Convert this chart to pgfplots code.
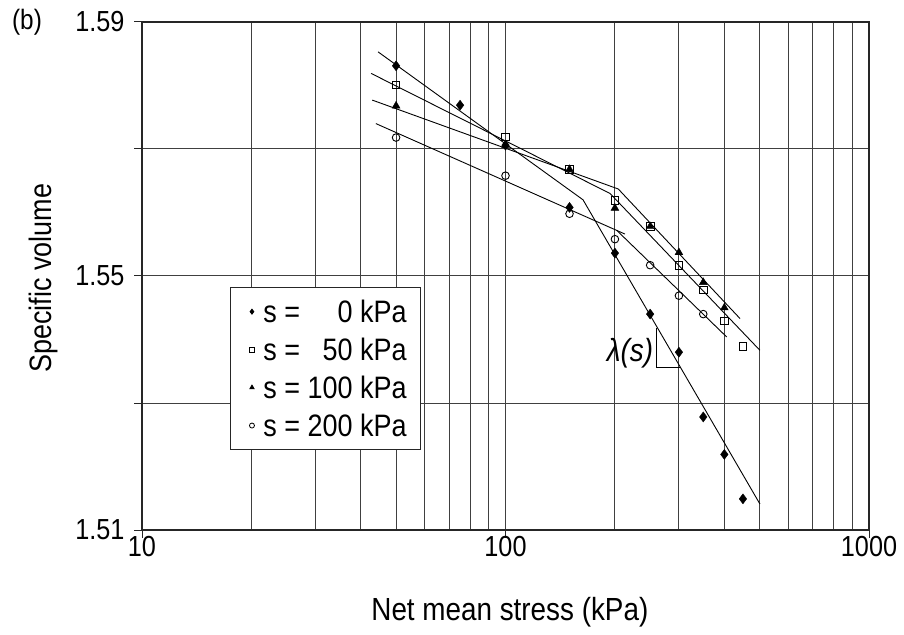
\documentclass[border=0pt]{standalone}
\usepackage{fontspec}
\setmainfont{Liberation Sans}[FakeStretch=0.87]
\usepackage{pgfplots}
\pgfplotsset{compat=1.18}
\usetikzlibrary{calc}
\begin{document}
\begin{tikzpicture}
\begin{axis}[
  name=ax,
  scale only axis,
  width=727pt, height=508pt,
  xmode=log, xmin=10, xmax=1000,
  ymin=1.51, ymax=1.59,
  xtick={10,100,1000}, xticklabels={10,100,1000},
  minor xtick={20,30,40,50,60,70,80,90,200,300,400,500,600,700,800,900},
  ytick={1.51,1.53,1.55,1.57,1.59}, yticklabels={1.51,,1.55,,1.59},
  xtick pos=bottom, ytick pos=left,
  xmajorgrids, xminorgrids, ymajorgrids,
  grid style={black!75, line width=1pt},
  minor grid style={black!75, line width=1pt},
  axis line style={black!85, line width=1.2pt},
  tick align=outside, major tick length=8pt, minor tick length=0pt,
  tick style={black!85, line width=1pt},
  /pgf/number format/assume math mode=true,
  tick label style={font=\fontsize{29}{32}\selectfont},
  xticklabel style={yshift=5pt},
  yticklabel style={xshift=-6pt},
  xlabel={Net mean stress (kPa)},
  ylabel={Specific volume},
  xlabel style={font=\fontsize{32}{36}\selectfont, at={(axis description cs:0.506,-0.161)}, anchor=center},
  ylabel style={font=\fontsize{31}{34}\selectfont, at={(axis description cs:-0.136,0.496)}, anchor=center, rotate=0},
  clip=false,
  legend style={at={(axis description cs:0.121,0.478)}, anchor=north west,
    draw=black!85, line width=1pt, fill=white, font=\fontsize{31}{34}\selectfont,
    row sep=10pt, inner xsep=12pt, inner ysep=10pt},
  legend cell align=left,
  legend image code/.code={\path (0pt,0pt) (18pt,0pt); \draw[#1, mark size=2.5pt, line width=0.8pt] plot coordinates {(9pt,0pt)};},
]
% fitted lines
\addplot[black, line width=0.9pt, forget plot] coordinates {(44.6,1.5853) (163.4,1.5620) (501,1.5141)};
\addplot[black, line width=0.9pt, forget plot] coordinates {(42.7,1.5819) (193.9,1.5630) (501,1.5383)};
\addplot[black, line width=0.9pt, forget plot] coordinates {(43.0,1.5777) (204.3,1.5637) (441.7,1.5433)};
\addplot[black, line width=0.9pt, forget plot] coordinates {(44.0,1.5740) (213.2,1.5566)};
\addplot[black, line width=0.9pt, forget plot] coordinates {(202.2,1.5572) (406,1.5404)};
% slope triangle
\addplot[black, line width=0.9pt, forget plot] coordinates {(260.6,1.5418) (260.6,1.5356) (302,1.5356)};
% data
\addplot[only marks, mark=diamond*, mark size=5pt, black] coordinates {
(50,1.5831) (75,1.5769) (100,1.5706) (150,1.5608) (200,1.5536) (250,1.5440) (300,1.5380) (350,1.5278) (400,1.5219) (450,1.5149)};
\addlegendentry{s = \phantom{00}0 kPa}
\addplot[only marks, mark=square, mark size=3.8pt, black, line width=0.9pt, mark options={fill=white}] coordinates {
(50,1.5801) (100,1.5719) (150,1.5668) (200,1.5619) (250,1.5578) (300,1.5517) (350,1.5478) (400,1.5429) (450,1.5389)};
\addlegendentry{s = \phantom{0}50 kPa}
\addplot[only marks, mark=triangle*, mark size=4.5pt, black] coordinates {
(50,1.5768) (100,1.5706) (150,1.5668) (200,1.5607) (250,1.5578) (300,1.5537) (350,1.5490) (400,1.5450)};
\addlegendentry{s = 100 kPa}
\addplot[only marks, mark=o, mark size=3.8pt, black, line width=0.9pt] coordinates {
(50,1.5718) (100,1.5658) (150,1.5598) (200,1.5558) (250,1.5517) (300,1.5469) (350,1.5440)};
\addlegendentry{s = 200 kPa}
\node[font=\fontsize{32}{36}\selectfont\itshape] at (axis cs:220,1.5378) {λ(s)};
\node[font=\fontsize{28}{32}\selectfont] at (rel axis cs:0,1) [xshift=-115pt, yshift=0pt] {(b)};
\end{axis}
\pgfresetboundingbox
\path ($(ax.south west)+(-142pt,-104pt)$) rectangle ($(ax.south west)+(762pt,530pt)$);
\end{tikzpicture}
\end{document}
